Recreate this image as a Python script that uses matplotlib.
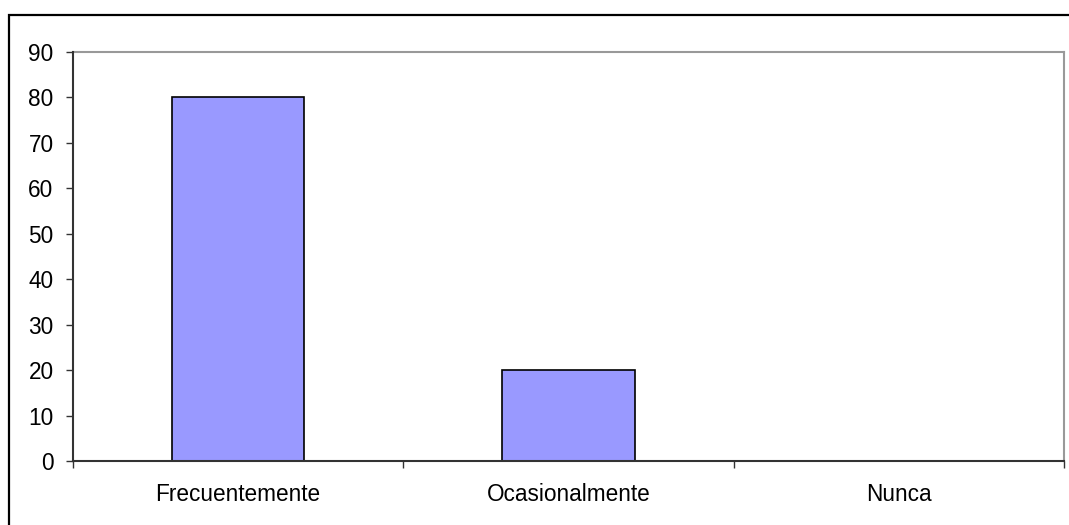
import numpy as np
import matplotlib.pyplot as plt
from matplotlib.patches import Rectangle

categories = ['Frecuentemente', 'Ocasionalmente', 'Nunca']
values = [80, 20, 0]
y_ticks = [0, 10, 20, 30, 40, 50, 60, 70, 80, 90]

plt.rcParams['font.family'] = ['Liberation Sans', 'DejaVu Sans']

fig = plt.figure(figsize=(10.69, 5.25), dpi=100)
ax = fig.add_axes([73 / 1069, 1 - 461 / 525, (1064 - 73) / 1069, (461 - 52) / 525])

x = np.arange(len(categories))
ax.bar(x, values, width=0.4, color='#9999FF', edgecolor='black', linewidth=1.2, zorder=2)

ax.set_xlim(-0.5, len(categories) - 0.5)
ax.set_ylim(0, 90)
ax.set_yticks(y_ticks)
ax.set_xticks(np.arange(len(categories) + 1) - 0.5)
ax.set_xticklabels([])
ax.set_xticks(x, minor=True)
ax.set_xticklabels(categories, minor=True)
ax.tick_params(axis='x', which='minor', length=0, pad=16, labelsize=16.3)
ax.tick_params(axis='x', which='major', length=5, width=1, color='#333333')
ax.tick_params(axis='y', length=5, width=1, color='#333333', pad=9, labelsize=16.3)

for side in ['top', 'right']:
    ax.spines[side].set_color('#999999')
    ax.spines[side].set_linewidth(1.5)
for side in ['left', 'bottom']:
    ax.spines[side].set_color('#333333')
    ax.spines[side].set_linewidth(1.5)
    ax.spines[side].set_zorder(4)

# outer chart frame (cut off on the right and bottom)
fig.patches.append(Rectangle((9 / 1069, -0.1), 1.1, 0.1 + 1 - 15 / 525, transform=fig.transFigure,
                             fill=False, edgecolor='black', linewidth=1.6))

fig.savefig('out.png', dpi=100)
